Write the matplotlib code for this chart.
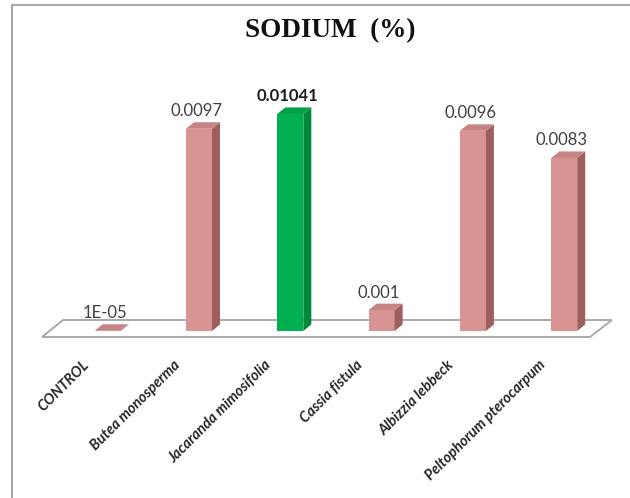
import matplotlib
matplotlib.use("Agg")
import matplotlib.pyplot as plt
from matplotlib.patches import Polygon
from matplotlib.lines import Line2D
import numpy as np

# Sodium content (%) of soil under each tree species
categories = ["CONTROL", "Butea monosperma", "Jacaranda mimosifolia",
              "Cassia fistula", "Albizzia lebbeck", "Peltophorum pterocarpum"]
sodium = [0.00001, 0.0097, 0.01041, 0.001, 0.0096, 0.0083]
value_labels = ["1E-05", "0.0097", "0.01041", "0.001", "0.0096", "0.0083"]
highlight = "Jacaranda mimosifolia"

W, H = 630, 498
fig = plt.figure(figsize=(W / 100, H / 100), dpi=100)
ax = fig.add_axes([0, 0, 1, 1])
ax.axis("off")

# pixel scale of the plotting area
PX_X = 91.3          # pixels per category step
PX_Y = 20850.0       # pixels per 1 % of sodium
X0 = 107.7           # pixel position of first category
BASE = 167.0         # pixel height of the zero line from the bottom
ax.set_xlim(-X0 / PX_X, (W - X0) / PX_X)
ax.set_ylim(-BASE / PX_Y, (H - BASE) / PX_Y)

x = np.arange(len(categories))
bar_w = 26 / PX_X
dx = 8 / PX_X
dy = 6.5 / PX_Y

pink = dict(front="#d89493", side="#9d5e5d", top="#c68482")
green = dict(front="#00b050", side="#00873b", top="#00a046")

# floor platform
floor = Polygon([(-65.7 / PX_X, -6 / PX_Y), (482.3 / PX_X, -6 / PX_Y),
                 (504.3 / PX_X, 11 / PX_Y), (-44.7 / PX_X, 11 / PX_Y)],
                closed=True, facecolor="white", edgecolor="#a9a9a9",
                linewidth=1.4, zorder=1)
ax.add_patch(floor)

for xi, cat, v in zip(x, categories, sodium):
    pal = green if cat == highlight else pink
    xl, xr = xi - bar_w / 2, xi + bar_w / 2
    ax.bar(xi, v, width=bar_w, color=pal["front"], edgecolor="none", zorder=3)
    ax.add_patch(Polygon([(xr, 0), (xr + dx, dy), (xr + dx, v + dy), (xr, v)],
                         closed=True, facecolor=pal["side"], edgecolor="none",
                         zorder=3))
    ax.add_patch(Polygon([(xl, v), (xr, v), (xr + dx, v + dy), (xl + dx, v + dy)],
                         closed=True, facecolor=pal["top"], edgecolor="none",
                         zorder=3))

for xi, cat, v, lab in zip(x, categories, sodium, value_labels):
    bold = cat == highlight
    ax.text(xi - 2.5 / PX_X, v + 17.5 / PX_Y, lab, ha="center", va="center",
            fontsize=12, family="Lato",
            fontweight="bold" if bold else "normal",
            color="#1e1e1e" if bold else "#404040", zorder=5)

for xi, cat in zip(x, categories):
    ax.text(xi - 21 / PX_X, -32 / PX_Y, cat, rotation=45,
            rotation_mode="anchor", ha="right", va="center", fontsize=10.5,
            fontweight="bold", style="italic", family="Lato",
            color="#262626")

fig.text(330 / W, 1 - 31 / H, "SODIUM  (%)", ha="center", va="center",
         fontsize=19.5, family="Liberation Serif", fontweight="bold",
         color="#111111")

# chart frame
fig.add_artist(Line2D([12 / W, 12 / W], [0, 1 - 5 / H],
                      transform=fig.transFigure, color="#a8a8a8", lw=1.5))
fig.add_artist(Line2D([12 / W, 1], [1 - 5 / H, 1 - 5 / H],
                      transform=fig.transFigure, color="#a8a8a8", lw=1.5))

fig.savefig("out.png", dpi=100, facecolor="white")
